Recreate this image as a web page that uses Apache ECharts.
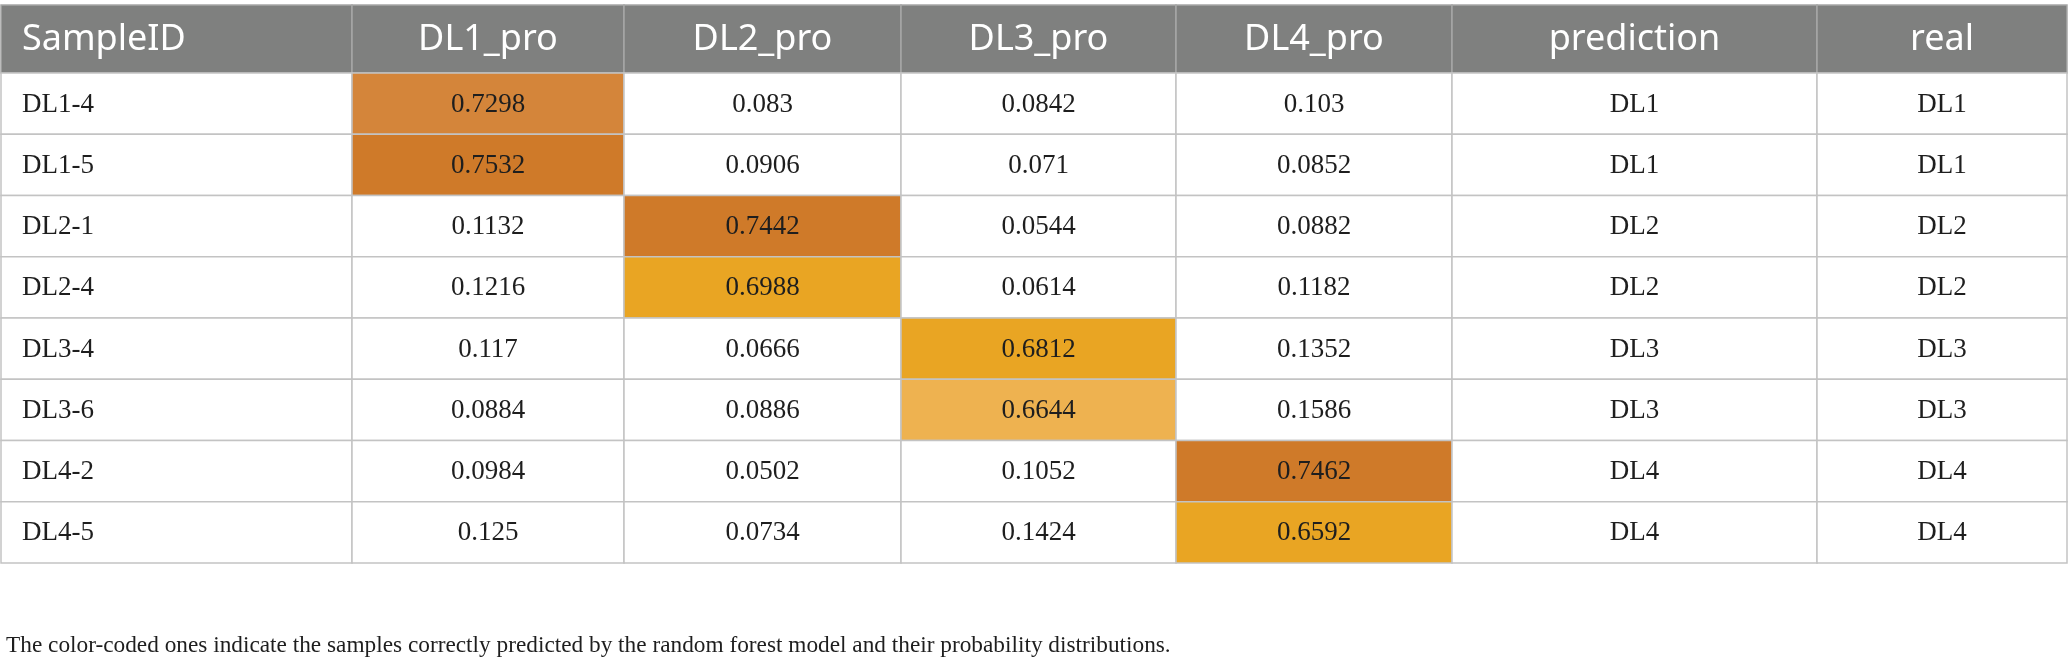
<!DOCTYPE html>
<html>
<head>
<meta charset="utf-8">
<script src="https://cdn.jsdelivr.net/npm/echarts@6/dist/echarts.min.js"></script>
<style>
html,body{margin:0;padding:0;background:#fff}
#container{width:2068px;height:666px}
</style>
</head>
<body>
<div id="container"></div>
<script>
var headers = ['SampleID', 'DL1_pro', 'DL2_pro', 'DL3_pro', 'DL4_pro', 'prediction', 'real']
var sampleIds = ['DL1-4', 'DL1-5', 'DL2-1', 'DL2-4', 'DL3-4', 'DL3-6', 'DL4-2', 'DL4-5']
var dl1Pro = [0.7298, 0.7532, 0.1132, 0.1216, 0.117, 0.0884, 0.0984, 0.125]
var dl2Pro = [0.083, 0.0906, 0.7442, 0.6988, 0.0666, 0.0886, 0.0502, 0.0734]
var dl3Pro = [0.0842, 0.071, 0.0544, 0.0614, 0.6812, 0.6644, 0.1052, 0.1424]
var dl4Pro = [0.103, 0.0852, 0.0882, 0.1182, 0.1352, 0.1586, 0.7462, 0.6592]
var prediction = ['DL1', 'DL1', 'DL2', 'DL2', 'DL3', 'DL3', 'DL4', 'DL4']
var real = ['DL1', 'DL1', 'DL2', 'DL2', 'DL3', 'DL3', 'DL4', 'DL4']
var caption = 'The color-coded ones indicate the samples correctly predicted by the random forest model and their probability distributions.'

// layout + look, kept apart from the values
var colWidths = [351, 272, 277, 275, 276, 365, 250]
var headerH = 68, rowH = 61.25
var shades = ['#d4853a', '#cf7a29', '#cf7a29', '#e9a523', '#e9a523', '#eeb250', '#cf7a29', '#e9a523']

var colEdges = [0]
for (var i = 0; i < colWidths.length; i++) colEdges.push(colEdges[i] + colWidths[i])
var totalH = headerH + rowH * sampleIds.length

var proCols = [dl1Pro, dl2Pro, dl3Pro, dl4Pro]
var cells = []
headers.forEach(function (h, c) {
    cells.push({col: c, row: 0, text: h, head: true})
})
sampleIds.forEach(function (id, r) {
    var row = [id]
    proCols.forEach(function (col) { row.push(String(col[r])) })
    row.push(prediction[r], real[r])
    row.forEach(function (t, c) {
        // colour only the probability of the correctly predicted class
        var hit = c >= 1 && c <= 4 && prediction[r] === real[r] && headers[c] === prediction[r] + '_pro'
        cells.push({col: c, row: r + 1, text: t, fill: hit ? shades[r] : '#fff'})
    })
})

function renderItem(params, api) {
    var cell = cells[params.dataIndex]
    var c = api.value(0), r = api.value(1)
    var y0 = r === 0 ? 0 : headerH + (r - 1) * rowH
    var y1 = r === 0 ? headerH : y0 + rowH
    var p0 = api.coord([colEdges[c], y0])
    var p1 = api.coord([colEdges[c + 1], y1])
    var left = c === 0
    return {
        type: 'group',
        children: [{
            type: 'rect',
            shape: {x: p0[0], y: p0[1], width: p1[0] - p0[0], height: p1[1] - p0[1]},
            style: {
                fill: cell.head ? '#7f807f' : cell.fill,
                stroke: cell.head ? '#a6a7a6' : '#c3c3c3',
                lineWidth: 1.5
            }
        }, {
            type: 'text',
            style: {
                text: cell.text,
                x: left ? p0[0] + 21 : (p0[0] + p1[0]) / 2,
                y: (p0[1] + p1[1]) / 2 + 1,
                align: left ? 'left' : 'center',
                verticalAlign: 'middle',
                fill: cell.head ? '#ffffff' : '#1e1e1e',
                font: cell.head ? '36px "Noto Sans"' : '27px "Liberation Serif"'
            }
        }]
    }
}

var myChart = echarts.init(document.getElementById('container'))
var option = {
    animation: false,
    title: {
        text: caption,
        left: 1,
        top: 629,
        textStyle: {
            fontFamily: 'Liberation Serif',
            fontWeight: 'normal',
            fontSize: 23.3,
            color: '#1e1e1e'
        }
    },
    grid: {left: 1, top: 5, width: colEdges[colEdges.length - 1], height: totalH},
    xAxis: {type: 'value', min: 0, max: colEdges[colEdges.length - 1], show: false},
    yAxis: {type: 'value', min: 0, max: totalH, inverse: true, show: false},
    series: [{
        type: 'custom',
        renderItem: renderItem,
        clip: false,
        data: cells.map(function (d) { return [d.col, d.row] })
    }]
}
myChart.setOption(option, true)
</script>
</body>
</html>
